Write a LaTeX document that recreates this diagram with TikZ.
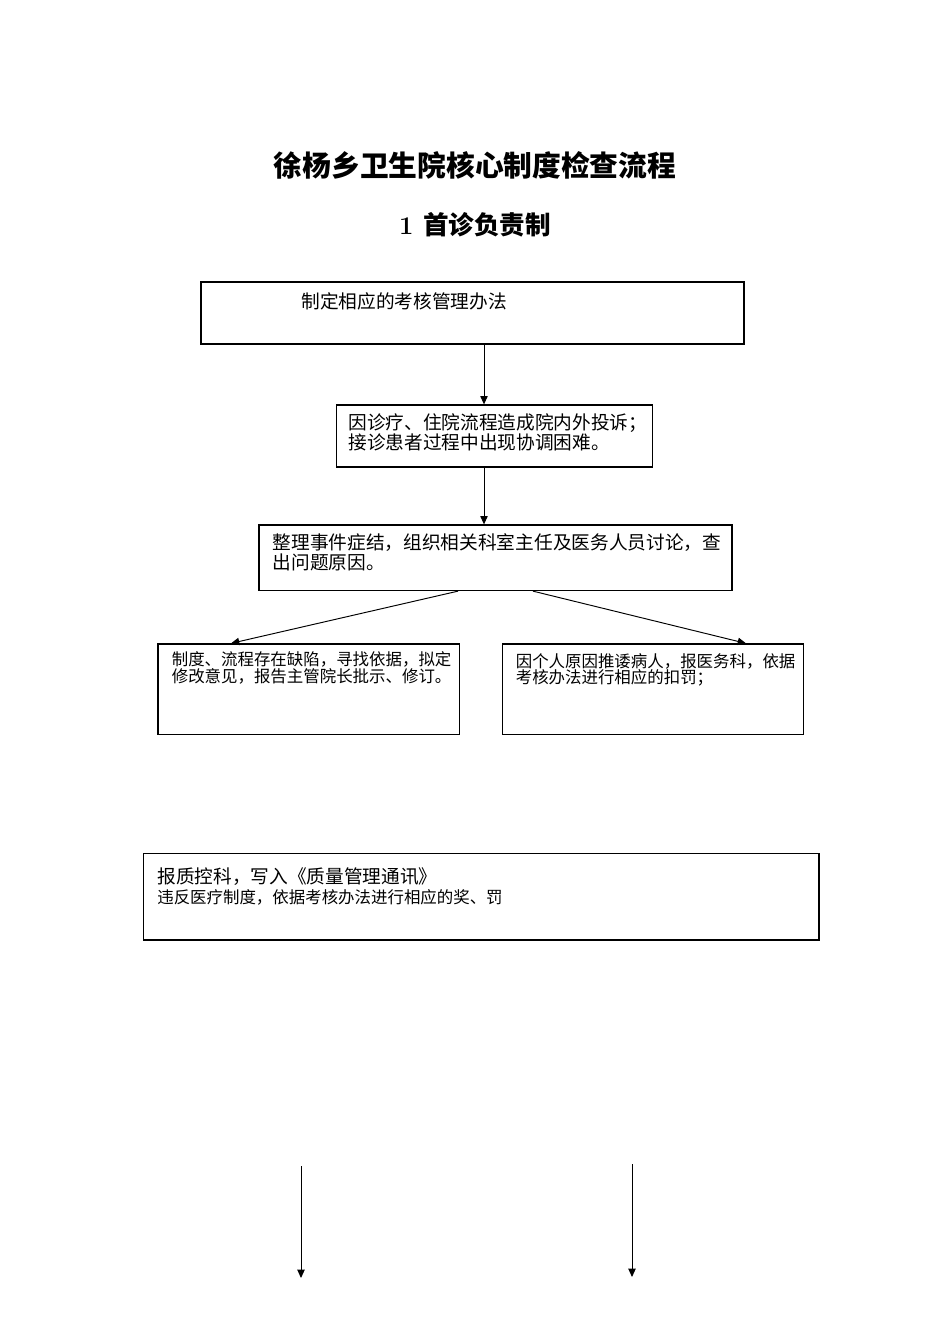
\documentclass[tikz,border=0pt]{standalone}
\usepackage{fontspec}
\newfontfamily\cjk{Noto Sans CJK SC}
\usetikzlibrary{arrows.meta,fit}

\begin{document}
\begin{tikzpicture}
		[x=0.6263pt, y=-0.6263pt,
		block/.style ={rectangle, draw=black, line width=0.8pt, inner sep=0pt},
		txt/.style ={anchor=north west, inner sep=0pt, align=left, font=\cjk\fontsize{11.7}{12.5}\selectfont},
		small/.style ={txt, font=\cjk\fontsize{10.3}{10.45}\selectfont},
		line/.style ={draw, line width=0.6pt, -{Triangle[length=5.2pt,width=4.6pt]}}]
		\useasboundingbox (0,0) rectangle (950,1344);
		\node[font=\cjk\bfseries\fontsize{18}{18}\selectfont] (title) at (475,165.5) {徐杨乡卫生院核心制度检查流程};
		\node[font=\bfseries\fontsize{16}{16}\selectfont] (sub) at (475,224.5) {1 {\cjk 首诊负责制}};
		% boxes
		\node[block, fit={(201,282) (744,344)}] (b1) {};
		\node[block, fit={(336.5,405) (652.5,467)}] (b2) {};
		\node[block, fit={(259,525) (732,590.5)}] (b3) {};
		\node[block, fit={(158,644) (459.5,734.5)}] (b4) {};
		\node[block, fit={(502.5,644) (803.5,734.5)}] (b5) {};
		\node[block, fit={(143.5,853.5) (819,940)}] (b6) {};
		% texts
		\node[txt] (b1t) at (301,292) {制定相应的考核管理办法};
		\node[txt] (b2t) at (348,413) {因诊疗、住院流程造成院内外投诉；\\接诊患者过程中出现协调困难。};
		\node[txt] (b3t) at (272.5,533) {整理事件症结，组织相关科室主任及医务人员讨论，查\\出问题原因。};
		\node[small] (b4t) at (171.5,651.5) {制度、流程存在缺陷，寻找依据，拟定\\修改意见，报告主管院长批示、修订。};
		\node[small] (b5t) at (515.5,653) {因个人原因推诿病人，报医务科，依据\\考核办法进行相应的扣罚；};
		\node[txt] (b6t) at (157,867) {报质控科，写入《质量管理通讯》};
		\node[small] (b6u) at (157,889) {违反医疗制度，依据考核办法进行相应的奖、罚};
		% arrows
		\coordinate (p1) at (301,1166);
		\coordinate (q1) at (301,1278);
		\coordinate (p2) at (632,1164);
		\coordinate (q2) at (632,1277);
		\path[line] (b1.south -| 484,0) -- (b2.north -| 484,0);
		\path[line] (b2.south -| 484,0) -- (b3.north -| 484,0);
		\path[line] (b3.south -| 458,0) -- (b4.north -| 231,0);
		\path[line] (b3.south -| 533,0) -- (b5.north -| 746,0);
		\path[line] (p1) -- (q1);
		\path[line] (p2) -- (q2);

	\end{tikzpicture}
\end{document}
